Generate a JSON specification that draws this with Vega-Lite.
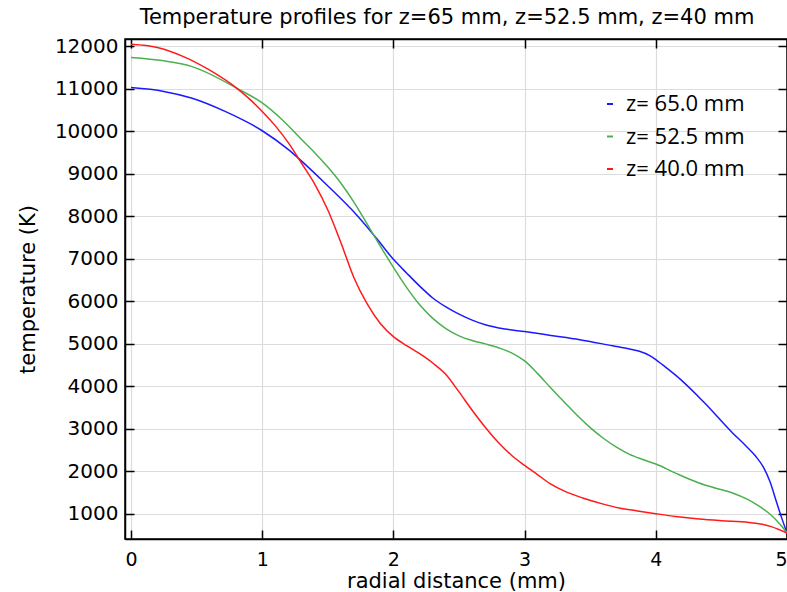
{
  "$schema": "https://vega.github.io/schema/vega-lite/v6.json",
  "width": 662,
  "height": 500,
  "autosize": "none",
  "padding": {"left": 125, "top": 39, "right": 0, "bottom": 53},
  "background": "white",
  "title": {
    "text": "Temperature profiles for z=65 mm, z=52.5 mm, z=40 mm",
    "font": "DejaVu Sans", "fontSize": 21, "fontWeight": "normal", "color": "#000",
    "offset": 8, "dx": -9
  },
  "config": {
    "view": {"stroke": "#000", "strokeWidth": 1.5},
    "axis": {
      "domainColor": "#000", "domainWidth": 1.5,
      "tickColor": "#000", "tickWidth": 1.5, "tickSize": -9,
      "labelFont": "DejaVu Sans", "labelFontSize": 20, "labelColor": "#000",
      "titleFont": "DejaVu Sans", "titleFontSize": 21, "titleFontWeight": "normal", "titleColor": "#000",
      "gridColor": "#dcdcdc", "gridWidth": 1.2
    }
  },
  "data": {
    "values": [
      {"series": "z= 65.0 mm", "r": 0, "T": 11030},
      {"series": "z= 65.0 mm", "r": 0.25, "T": 10940},
      {"series": "z= 65.0 mm", "r": 0.46, "T": 10785},
      {"series": "z= 65.0 mm", "r": 0.717, "T": 10470},
      {"series": "z= 65.0 mm", "r": 1.0, "T": 10015},
      {"series": "z= 65.0 mm", "r": 1.2, "T": 9570},
      {"series": "z= 65.0 mm", "r": 1.275, "T": 9370},
      {"series": "z= 65.0 mm", "r": 1.477, "T": 8785},
      {"series": "z= 65.0 mm", "r": 1.73, "T": 8000},
      {"series": "z= 65.0 mm", "r": 1.88, "T": 7450},
      {"series": "z= 65.0 mm", "r": 1.98, "T": 7060},
      {"series": "z= 65.0 mm", "r": 2.0, "T": 6990},
      {"series": "z= 65.0 mm", "r": 2.1, "T": 6670},
      {"series": "z= 65.0 mm", "r": 2.2, "T": 6360},
      {"series": "z= 65.0 mm", "r": 2.3, "T": 6080},
      {"series": "z= 65.0 mm", "r": 2.4, "T": 5870},
      {"series": "z= 65.0 mm", "r": 2.5, "T": 5700},
      {"series": "z= 65.0 mm", "r": 2.6, "T": 5560},
      {"series": "z= 65.0 mm", "r": 2.7, "T": 5450},
      {"series": "z= 65.0 mm", "r": 2.85, "T": 5350},
      {"series": "z= 65.0 mm", "r": 3.0, "T": 5290},
      {"series": "z= 65.0 mm", "r": 3.2, "T": 5200},
      {"series": "z= 65.0 mm", "r": 3.42, "T": 5100},
      {"series": "z= 65.0 mm", "r": 3.67, "T": 4955},
      {"series": "z= 65.0 mm", "r": 3.8, "T": 4880},
      {"series": "z= 65.0 mm", "r": 3.875, "T": 4825},
      {"series": "z= 65.0 mm", "r": 3.95, "T": 4730},
      {"series": "z= 65.0 mm", "r": 4.0, "T": 4630},
      {"series": "z= 65.0 mm", "r": 4.05, "T": 4510},
      {"series": "z= 65.0 mm", "r": 4.19, "T": 4160},
      {"series": "z= 65.0 mm", "r": 4.36, "T": 3650},
      {"series": "z= 65.0 mm", "r": 4.585, "T": 2905},
      {"series": "z= 65.0 mm", "r": 4.68, "T": 2620},
      {"series": "z= 65.0 mm", "r": 4.76, "T": 2360},
      {"series": "z= 65.0 mm", "r": 4.82, "T": 2100},
      {"series": "z= 65.0 mm", "r": 4.87, "T": 1760},
      {"series": "z= 65.0 mm", "r": 4.92, "T": 1280},
      {"series": "z= 65.0 mm", "r": 4.96, "T": 900},
      {"series": "z= 65.0 mm", "r": 5.0, "T": 550},

      {"series": "z= 52.5 mm", "r": 0, "T": 11740},
      {"series": "z= 52.5 mm", "r": 0.25, "T": 11660},
      {"series": "z= 52.5 mm", "r": 0.46, "T": 11530},
      {"series": "z= 52.5 mm", "r": 0.815, "T": 11000},
      {"series": "z= 52.5 mm", "r": 1.0, "T": 10670},
      {"series": "z= 52.5 mm", "r": 1.15, "T": 10280},
      {"series": "z= 52.5 mm", "r": 1.3, "T": 9810},
      {"series": "z= 52.5 mm", "r": 1.4, "T": 9500},
      {"series": "z= 52.5 mm", "r": 1.5, "T": 9160},
      {"series": "z= 52.5 mm", "r": 1.6, "T": 8780},
      {"series": "z= 52.5 mm", "r": 1.7, "T": 8330},
      {"series": "z= 52.5 mm", "r": 1.8, "T": 7820},
      {"series": "z= 52.5 mm", "r": 1.9, "T": 7300},
      {"series": "z= 52.5 mm", "r": 2.0, "T": 6800},
      {"series": "z= 52.5 mm", "r": 2.1, "T": 6330},
      {"series": "z= 52.5 mm", "r": 2.2, "T": 5920},
      {"series": "z= 52.5 mm", "r": 2.3, "T": 5600},
      {"series": "z= 52.5 mm", "r": 2.4, "T": 5360},
      {"series": "z= 52.5 mm", "r": 2.5, "T": 5190},
      {"series": "z= 52.5 mm", "r": 2.6, "T": 5080},
      {"series": "z= 52.5 mm", "r": 2.7, "T": 5000},
      {"series": "z= 52.5 mm", "r": 2.8, "T": 4910},
      {"series": "z= 52.5 mm", "r": 2.9, "T": 4790},
      {"series": "z= 52.5 mm", "r": 3.0, "T": 4600},
      {"series": "z= 52.5 mm", "r": 3.1, "T": 4300},
      {"series": "z= 52.5 mm", "r": 3.2, "T": 3960},
      {"series": "z= 52.5 mm", "r": 3.3, "T": 3640},
      {"series": "z= 52.5 mm", "r": 3.4, "T": 3320},
      {"series": "z= 52.5 mm", "r": 3.5, "T": 3030},
      {"series": "z= 52.5 mm", "r": 3.6, "T": 2780},
      {"series": "z= 52.5 mm", "r": 3.7, "T": 2570},
      {"series": "z= 52.5 mm", "r": 3.8, "T": 2400},
      {"series": "z= 52.5 mm", "r": 3.9, "T": 2280},
      {"series": "z= 52.5 mm", "r": 4.0, "T": 2174},
      {"series": "z= 52.5 mm", "r": 4.15, "T": 1960},
      {"series": "z= 52.5 mm", "r": 4.33, "T": 1727},
      {"series": "z= 52.5 mm", "r": 4.45, "T": 1610},
      {"series": "z= 52.5 mm", "r": 4.585, "T": 1492},
      {"series": "z= 52.5 mm", "r": 4.7, "T": 1340},
      {"series": "z= 52.5 mm", "r": 4.79, "T": 1176},
      {"series": "z= 52.5 mm", "r": 4.86, "T": 1020},
      {"series": "z= 52.5 mm", "r": 4.915, "T": 864},
      {"series": "z= 52.5 mm", "r": 4.96, "T": 710},
      {"series": "z= 52.5 mm", "r": 5.0, "T": 550},

      {"series": "z= 40.0 mm", "r": 0, "T": 12050},
      {"series": "z= 40.0 mm", "r": 0.2, "T": 11975},
      {"series": "z= 40.0 mm", "r": 0.4, "T": 11760},
      {"series": "z= 40.0 mm", "r": 0.6, "T": 11440},
      {"series": "z= 40.0 mm", "r": 0.8, "T": 11030},
      {"series": "z= 40.0 mm", "r": 0.9, "T": 10770},
      {"series": "z= 40.0 mm", "r": 1.0, "T": 10470},
      {"series": "z= 40.0 mm", "r": 1.1, "T": 10130},
      {"series": "z= 40.0 mm", "r": 1.2, "T": 9730},
      {"series": "z= 40.0 mm", "r": 1.3, "T": 9250},
      {"series": "z= 40.0 mm", "r": 1.4, "T": 8760},
      {"series": "z= 40.0 mm", "r": 1.5, "T": 8150},
      {"series": "z= 40.0 mm", "r": 1.6, "T": 7380},
      {"series": "z= 40.0 mm", "r": 1.7, "T": 6550},
      {"series": "z= 40.0 mm", "r": 1.8, "T": 5940},
      {"series": "z= 40.0 mm", "r": 1.9, "T": 5480},
      {"series": "z= 40.0 mm", "r": 2.0, "T": 5170},
      {"series": "z= 40.0 mm", "r": 2.1, "T": 4960},
      {"series": "z= 40.0 mm", "r": 2.2, "T": 4770},
      {"series": "z= 40.0 mm", "r": 2.3, "T": 4550},
      {"series": "z= 40.0 mm", "r": 2.4, "T": 4280},
      {"series": "z= 40.0 mm", "r": 2.5, "T": 3870},
      {"series": "z= 40.0 mm", "r": 2.6, "T": 3440},
      {"series": "z= 40.0 mm", "r": 2.7, "T": 3040},
      {"series": "z= 40.0 mm", "r": 2.8, "T": 2680},
      {"series": "z= 40.0 mm", "r": 2.9, "T": 2380},
      {"series": "z= 40.0 mm", "r": 3.0, "T": 2140},
      {"series": "z= 40.0 mm", "r": 3.1, "T": 1920},
      {"series": "z= 40.0 mm", "r": 3.2, "T": 1700},
      {"series": "z= 40.0 mm", "r": 3.3, "T": 1540},
      {"series": "z= 40.0 mm", "r": 3.443, "T": 1374},
      {"series": "z= 40.0 mm", "r": 3.6, "T": 1230},
      {"series": "z= 40.0 mm", "r": 3.72, "T": 1139},
      {"series": "z= 40.0 mm", "r": 3.86, "T": 1070},
      {"series": "z= 40.0 mm", "r": 4.0, "T": 1005},
      {"series": "z= 40.0 mm", "r": 4.15, "T": 940},
      {"series": "z= 40.0 mm", "r": 4.33, "T": 880},
      {"series": "z= 40.0 mm", "r": 4.5, "T": 840},
      {"series": "z= 40.0 mm", "r": 4.71, "T": 800},
      {"series": "z= 40.0 mm", "r": 4.8, "T": 760},
      {"series": "z= 40.0 mm", "r": 4.88, "T": 700},
      {"series": "z= 40.0 mm", "r": 4.94, "T": 630},
      {"series": "z= 40.0 mm", "r": 5.0, "T": 550}
    ]
  },
  "layer": [
    {
      "mark": {"type": "line", "interpolate": "monotone", "strokeWidth": 1.5},
      "encoding": {
        "x": {
          "field": "r", "type": "quantitative",
          "scale": {"domain": [-0.046, 5.0], "nice": false, "zero": false},
          "axis": {
            "orient": "bottom", "values": [0, 1, 2, 3, 4, 5], "format": "d",
            "labelPadding": 20, "labelFontSize": 19, "grid": true,
            "title": "radial distance (mm)", "titlePadding": 1
          }
        },
        "y": {
          "field": "T", "type": "quantitative",
          "scale": {"domain": [409, 12174], "nice": false, "zero": false},
          "axis": {
            "orient": "left",
            "values": [1000, 2000, 3000, 4000, 5000, 6000, 7000, 8000, 9000, 10000, 11000, 12000],
            "format": "d", "labelPadding": 16, "grid": true,
            "title": "temperature (K)", "titlePadding": 16
          }
        },
        "color": {
          "field": "series", "type": "nominal",
          "scale": {
            "domain": ["z= 65.0 mm", "z= 52.5 mm", "z= 40.0 mm"],
            "range": ["#1a1aff", "#4caf50", "#ff1a1a"]
          },
          "legend": {
            "orient": "none", "legendX": 474, "legendY": 54, "title": null,
            "padding": 0, "symbolType": "stroke", "symbolSize": 36, "symbolStrokeWidth": 2,
            "labelFont": "Open Sans", "labelFontSize": 22, "labelColor": "#000",
            "labelOffset": 5, "rowPadding": 10.5
          }
        }
      }
    },
    {
      "mark": {"type": "point", "opacity": 0},
      "encoding": {
        "x": {
          "field": "r", "type": "quantitative",
          "axis": {"orient": "top", "values": [0, 1, 2, 3, 4, 5], "labels": false, "grid": false, "title": null}
        },
        "y": {
          "field": "T", "type": "quantitative",
          "axis": {
            "orient": "right",
            "values": [1000, 2000, 3000, 4000, 5000, 6000, 7000, 8000, 9000, 10000, 11000, 12000],
            "labels": false, "grid": false, "title": null
          }
        }
      }
    }
  ],
  "resolve": {"axis": {"x": "independent", "y": "independent"}}
}
